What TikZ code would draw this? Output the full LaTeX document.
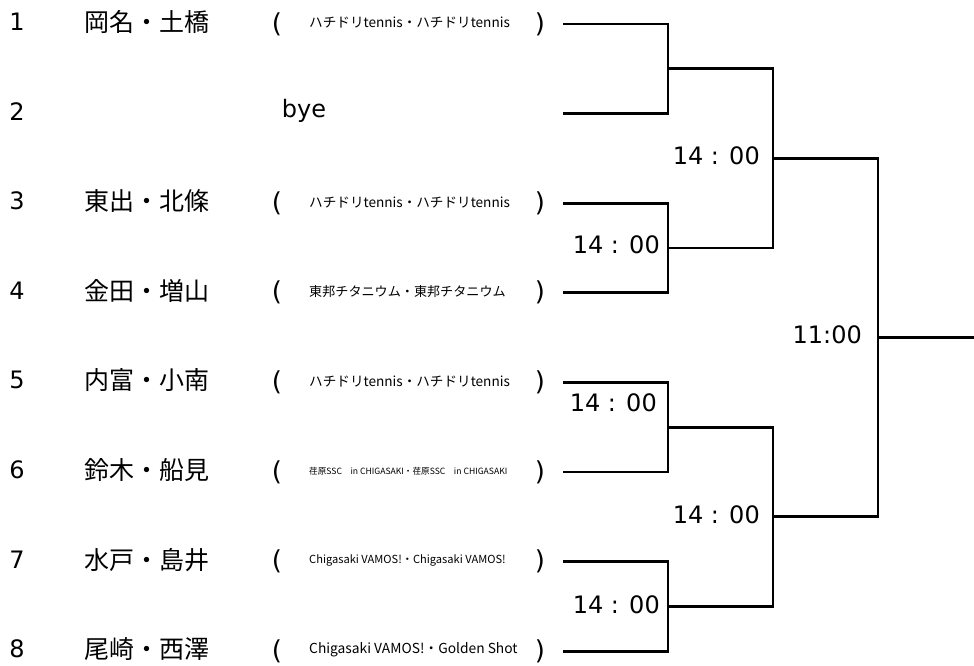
\documentclass[tikz,border=0pt]{standalone}
\usepackage{fontspec}
\setmainfont{DejaVu Sans}
\newfontfamily\jp{Noto Sans CJK JP}
\usetikzlibrary{positioning}
\tikzset{inner sep=0pt}

\begin{document}
\begin{tikzpicture}[x=1pt,y=-1pt,
            num/.style={font=\fontsize{24}{24}\selectfont},
            pair/.style={anchor=west,font=\jp\fontsize{25}{25}\selectfont},
            paren/.style={font=\fontsize{26}{26}\selectfont},
            club/.style={anchor=west,font=\jp\fontsize{#1}{#1}\selectfont},
            time/.style={font=\fontsize{24}{24}\selectfont},
            bracket/.style={draw,line width=2.7pt}
            ]
            \useasboundingbox (0,0) rectangle (974,666);
            % players
            \node[num] (n1) at (17,22) {1};
            \node[pair] (p1) at (84,22) {岡名・土橋};
            \node[paren] (l1) at (277,24) {(};
            \node[club=13.6] (c1) at (309,23) {ハチドリtennis・ハチドリtennis};
            \node[paren] (r1) at (540,24) {)};
            \node[num] (n2) at (17,111.6) {2};
            \node[num] (bye) at (304,111) {bye};
            \node[num] (n3) at (17,201.2) {3};
            \node[pair] (p3) at (84,201.2) {東出・北條};
            \node[paren] (l3) at (277,203.2) {(};
            \node[club=13.6] (c3) at (309,202.2) {ハチドリtennis・ハチドリtennis};
            \node[paren] (r3) at (540,203.2) {)};
            \node[num] (n4) at (17,290.8) {4};
            \node[pair] (p4) at (84,290.8) {金田・増山};
            \node[paren] (l4) at (277,292.8) {(};
            \node[club=13.1] (c4) at (309,291.8) {東邦チタニウム・東邦チタニウム};
            \node[paren] (r4) at (540,292.8) {)};
            \node[num] (n5) at (17,380.4) {5};
            \node[pair] (p5) at (84,380.4) {内富・小南};
            \node[paren] (l5) at (277,382.4) {(};
            \node[club=13.6] (c5) at (309,381.4) {ハチドリtennis・ハチドリtennis};
            \node[paren] (r5) at (540,382.4) {)};
            \node[num] (n6) at (17,470) {6};
            \node[pair] (p6) at (84,470) {鈴木・船見};
            \node[paren] (l6) at (277,472) {(};
            \node[club=8.6] (c6) at (309,471) {荏原SSC　in CHIGASAKI・荏原SSC　in CHIGASAKI};
            \node[paren] (r6) at (540,472) {)};
            \node[num] (n7) at (17,559.6) {7};
            \node[pair] (p7) at (84,559.6) {水戸・島井};
            \node[paren] (l7) at (277,561.6) {(};
            \node[club=11.1] (c7) at (309,560.6) {Chigasaki VAMOS!・Chigasaki VAMOS!};
            \node[paren] (r7) at (540,561.6) {)};
            \node[num] (n8) at (17,649.2) {8};
            \node[pair] (p8) at (84,649.2) {尾崎・西澤};
            \node[paren] (l8) at (277,651.2) {(};
            \node[club=13.8] (c8) at (309,650.2) {Chigasaki VAMOS!・Golden Shot};
            \node[paren] (r8) at (540,651.2) {)};
            % bracket
            \coordinate (e1) at (563,24);
            \coordinate (e2) at (563,113.6);
            \coordinate (e3) at (563,203.2);
            \coordinate (e4) at (563,292.8);
            \coordinate (e5) at (563,382.4);
            \coordinate (e6) at (563,472);
            \coordinate (e7) at (563,561.6);
            \coordinate (e8) at (563,651.2);
            \coordinate (q1) at (668,68.8);
            \coordinate (q2) at (668,248);
            \coordinate (q3) at (668,427.2);
            \coordinate (q4) at (668,606.4);
            \coordinate (s1) at (773,158.4);
            \coordinate (s2) at (773,516.8);
            \coordinate (f) at (878,337.6);
            \coordinate (w) at (974,337.6);
            \draw[bracket] (e1) -| (q1) |- (e2);
            \draw[bracket] (e3) -| (q2) |- (e4);
            \draw[bracket] (e5) -| (q3) |- (e6);
            \draw[bracket] (e7) -| (q4) |- (e8);
            \draw[bracket] (q1) -| (s1) |- (q2);
            \draw[bracket] (q3) -| (s2) |- (q4);
            \draw[bracket] (s1) -| (f) |- (s2);
            \draw[bracket] (f) -- (w);
            % times
            \node[time,left=13pt of s1,yshift=3pt] (t1) {14 : 00};
            \node[time,left=8pt of q2,yshift=3pt] (t2) {14 : 00};
            \node[time,left=16pt of f,yshift=3pt] (t3) {11:00};
            \node[time,left=11pt of q3,yshift=24pt] (t4) {14 : 00};
            \node[time,left=13pt of s2,yshift=2pt] (t5) {14 : 00};
            \node[time,left=8pt of q4,yshift=2pt] (t6) {14 : 00};
\end{tikzpicture}
\end{document}
